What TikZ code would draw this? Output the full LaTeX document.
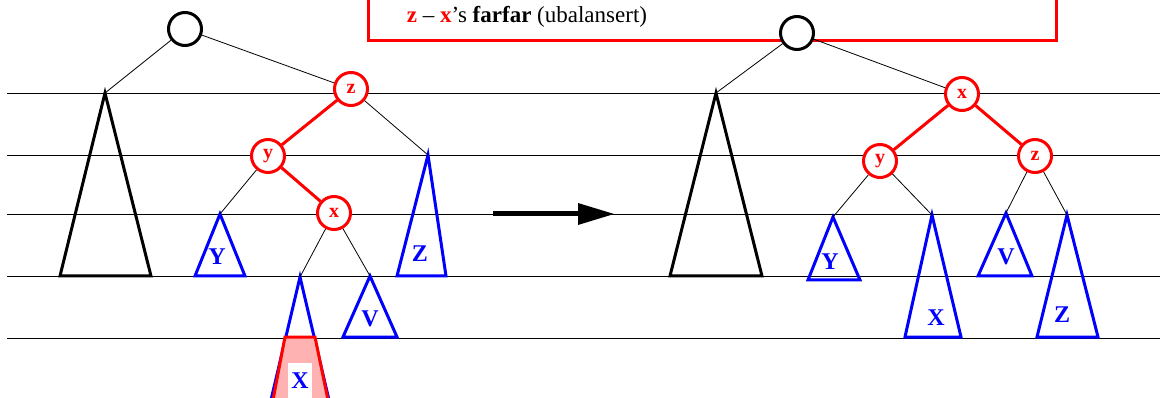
\documentclass[tikz,border=0pt]{standalone}
\usepackage{fontspec}
\setmainfont{Liberation Serif}
\begin{document}
\begin{tikzpicture}[x=1pt,y=-1pt,
  rnode/.style={circle,draw=red,fill=white,line width=3pt,minimum size=33pt,inner sep=0pt,text=red,font=\bfseries\fontsize{20}{20}\selectfont},
  bnode/.style={circle,draw=black,fill=white,line width=3pt,minimum size=33pt,inner sep=0pt},
  tedge/.style={draw=black,line width=0.8pt},
  redge/.style={draw=red,line width=3pt},
  btri/.style={draw=blue,line width=3pt,line join=miter},
  ktri/.style={draw=black,line width=3pt,line join=miter},
  lab/.style={text=blue,inner sep=0pt,font=\bfseries\fontsize{24}{24}\selectfont},
  level/.style={draw=black,line width=0.8pt}]
\useasboundingbox (0,0) rectangle (1160,398);
% level lines
\foreach \yy in {93,155,214,276,338} \draw[level] (7,\yy) -- (1160,\yy);
% caption box
\draw[red,line width=3pt] (368,-10) rectangle (1056,41);
\node[anchor=base,inner sep=0pt,font=\fontsize{23}{23}\selectfont] (cap) at (527,23)
  {\textcolor{red}{\bfseries z} – \textcolor{red}{\bfseries x}’s \textbf{farfar} (ubalansert)};

% ===== left tree =====
\coordinate (la) at (105,93);
\coordinate (lY) at (220,214);
\coordinate (lZ) at (428,155);
\coordinate (lX) at (300,277);
\coordinate (lV) at (370,276);
\draw[ktri] (60,276) -- (la) -- (151,276) -- cycle;
\draw[btri] (195,276) -- (lY) -- (245,276) -- cycle;
\draw[btri] (397,276) -- (lZ) -- (446,276) -- cycle;
\draw[btri] (343,337) -- (lV) -- (397,337) -- cycle;
\draw[btri] (271,400) -- (lX) -- (329,400);
\fill[red!30] (273,400) -- (285,337) -- (315,337) -- (328,400) -- cycle;
\draw[red,line width=3pt,line join=miter] (273,400) -- (285,337) -- (315,337) -- (328,400);
\node[lab] (tlY) at (217,257) {Y};
\node[lab] (tlZ) at (420,254) {Z};
\node[lab] (tlV) at (370,319) {V};
\node[lab,fill=white,minimum width=24pt,minimum height=36pt] (tlX) at (300,381) {X};

\node[bnode] (lr) at (185,29) {};
\node[rnode] (lz) at (351,89) {z};
\node[rnode] (ly) at (268,156) {y};
\node[rnode] (lx) at (334,213) {x};
\draw[tedge] (lr) -- (la);
\draw[tedge] (lr) -- (lz);
\draw[tedge] (lz) -- (lZ);
\draw[tedge] (ly) -- (lY);
\draw[tedge] (lx) -- (lX);
\draw[tedge] (lx) -- (lV);
\draw[redge] (lz) -- (ly);
\draw[redge] (ly) -- (lx);

% ===== arrow =====
\coordinate (as) at (493,214);
\coordinate (ae) at (614,214);
\draw[line width=5pt] (as) -- (580,214);
\fill (578,203) -- (ae) -- (578,225) -- cycle;

% ===== right tree =====
\coordinate (ra) at (716,93);
\coordinate (rY) at (833,217);
\coordinate (rX) at (932,215);
\coordinate (rV) at (1006,213);
\coordinate (rZ) at (1067,215);
\draw[ktri] (670,276) -- (ra) -- (762,276) -- cycle;
\draw[btri] (808,280) -- (rY) -- (860,280) -- cycle;
\draw[btri] (905,337) -- (rX) -- (961,337) -- cycle;
\draw[btri] (978,276) -- (rV) -- (1032,276) -- cycle;
\draw[btri] (1037,337) -- (rZ) -- (1098,337) -- cycle;
\node[lab] (trY) at (830,262) {Y};
\node[lab] (trX) at (936,318) {X};
\node[lab] (trV) at (1006,257) {V};
\node[lab] (trZ) at (1062,315) {Z};

\node[bnode] (rr) at (797,33) {};
\node[rnode] (rx) at (962,94) {x};
\node[rnode] (ry) at (880,161) {y};
\node[rnode] (rz) at (1035,156) {z};
\draw[tedge] (rr) -- (ra);
\draw[tedge] (rr) -- (rx);
\draw[tedge] (ry) -- (rY);
\draw[tedge] (ry) -- (rX);
\draw[tedge] (rz) -- (rV);
\draw[tedge] (rz) -- (rZ);
\draw[redge] (rx) -- (ry);
\draw[redge] (rx) -- (rz);
\end{tikzpicture}
\end{document}
